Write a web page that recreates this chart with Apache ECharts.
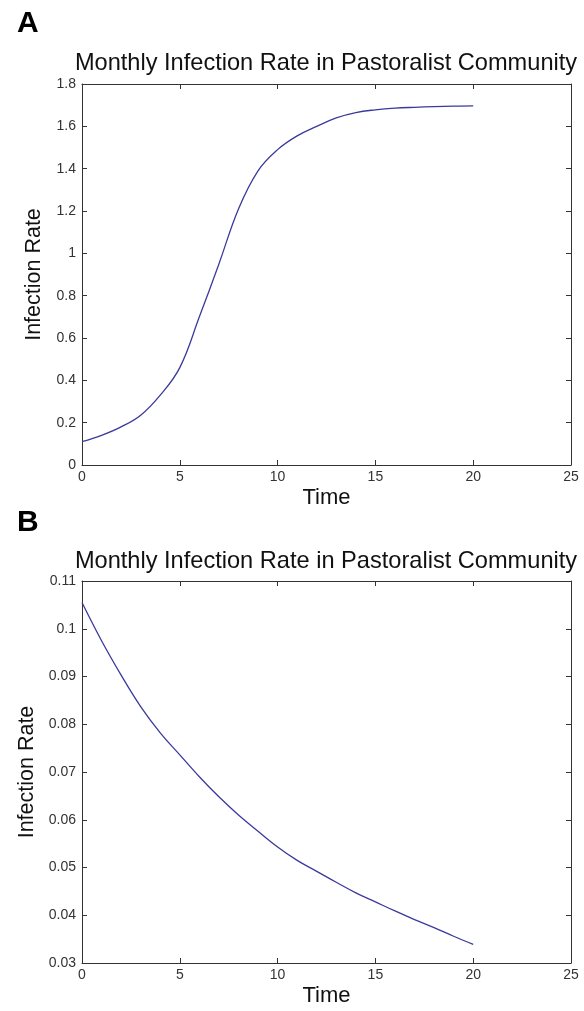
<!DOCTYPE html>
<html>
<head>
<meta charset="utf-8">
<script src="https://cdn.jsdelivr.net/npm/echarts@6/dist/echarts.min.js"></script>
<style>
  html, body { margin: 0; padding: 0; background: #fff; }
  #chart { width: 584px; height: 1011px; }
</style>
</head>
<body>
<div id="chart"></div>
<script>
  // time points (months)
  var time = [0, 1, 2, 3, 4, 5, 6, 7, 8, 9, 10, 11, 12, 13, 14, 15, 16, 17, 18, 19, 20];
  // panel A: infection rate
  var rateA = [0.11, 0.14, 0.18, 0.235, 0.33, 0.46, 0.70, 0.95, 1.21, 1.39, 1.49,
               1.555, 1.60, 1.64, 1.665, 1.678, 1.686, 1.69, 1.693, 1.695, 1.697];
  // panel B
  var rateB = [0.1055, 0.0975, 0.0903, 0.0837, 0.0782, 0.0736, 0.0690, 0.0648, 0.0610, 0.0576, 0.0543,
               0.0515, 0.0492, 0.0469, 0.0447, 0.0428, 0.0409, 0.0391, 0.0374, 0.0356, 0.0339];
  var titleText = 'Monthly Infection Rate in Pastoralist Community';

  var font = 'Liberation Sans, Arial, sans-serif';
  var axisColor = '#333';

  function pairs(xs, ys) {
    return xs.map(function (x, i) { return [x, ys[i]]; });
  }

  function xAxes(gridIndex) {
    var base = {
      gridIndex: gridIndex, type: 'value', min: 0, max: 25, interval: 5,
      axisLine: { show: true, onZero: false, lineStyle: { color: axisColor, width: 1 } },
      axisTick: { show: true, inside: true, length: 5, lineStyle: { color: axisColor } },
      splitLine: { show: false }
    };
    return [
      Object.assign({}, base, {
        position: 'bottom',
        axisLabel: { color: axisColor, fontSize: 14, fontFamily: font, margin: 5 },
        name: 'Time', nameLocation: 'middle', nameGap: 22,
        nameTextStyle: { color: '#111', fontSize: 22, fontFamily: font }
      }),
      Object.assign({}, base, { position: 'top', axisLabel: { show: false } })
    ];
  }

  function yAxes(gridIndex, min, max, step, digits) {
    var base = {
      gridIndex: gridIndex, type: 'value', min: min, max: max, interval: step,
      axisLine: { show: true, onZero: false, lineStyle: { color: axisColor, width: 1 } },
      axisTick: { show: true, inside: true, length: 5, lineStyle: { color: axisColor } },
      splitLine: { show: false }
    };
    return [
      Object.assign({}, base, {
        position: 'left',
        axisLabel: {
          color: axisColor, fontSize: 14, fontFamily: font, margin: 6,
          formatter: function (v) { return String(parseFloat(v.toFixed(digits))); }
        },
        name: 'Infection Rate', nameLocation: 'middle', nameGap: 37,
        nameTextStyle: { color: '#111', fontSize: 21.5, fontFamily: font }
      }),
      Object.assign({}, base, { position: 'right', axisLabel: { show: false } })
    ];
  }

  var chart = echarts.init(document.getElementById('chart'), null, { renderer: 'canvas' });
  chart.setOption({
    backgroundColor: '#fff',
    animation: false,
    title: [
      { text: 'A', left: 12, top: 4, textStyle: { fontSize: 30, fontWeight: 'bold', color: '#000', fontFamily: font } },
      { text: titleText, left: 321, textAlign: 'center', top: 46, textStyle: { fontSize: 23.6, fontWeight: 'normal', color: '#111', fontFamily: font } },
      { text: 'B', left: 12, top: 503, textStyle: { fontSize: 30, fontWeight: 'bold', color: '#000', fontFamily: font } },
      { text: titleText, left: 321, textAlign: 'center', top: 544, textStyle: { fontSize: 23.6, fontWeight: 'normal', color: '#111', fontFamily: font } }
    ],
    grid: [
      { left: 82, top: 84, width: 489, height: 381 },
      { left: 82, top: 581, width: 489, height: 382 }
    ],
    xAxis: xAxes(0).concat(xAxes(1)),
    yAxis: yAxes(0, 0, 1.8, 0.2, 1).concat(yAxes(1, 0.03, 0.11, 0.01, 2)),
    series: [
      {
        type: 'line', xAxisIndex: 0, yAxisIndex: 0, data: pairs(time, rateA),
        smooth: 0.4, showSymbol: false, lineStyle: { color: '#3a3a9c', width: 1.3 }
      },
      {
        type: 'line', xAxisIndex: 2, yAxisIndex: 2, data: pairs(time, rateB),
        smooth: 0.4, showSymbol: false, lineStyle: { color: '#3a3a9c', width: 1.3 }
      }
    ]
  });
</script>
</body>
</html>
